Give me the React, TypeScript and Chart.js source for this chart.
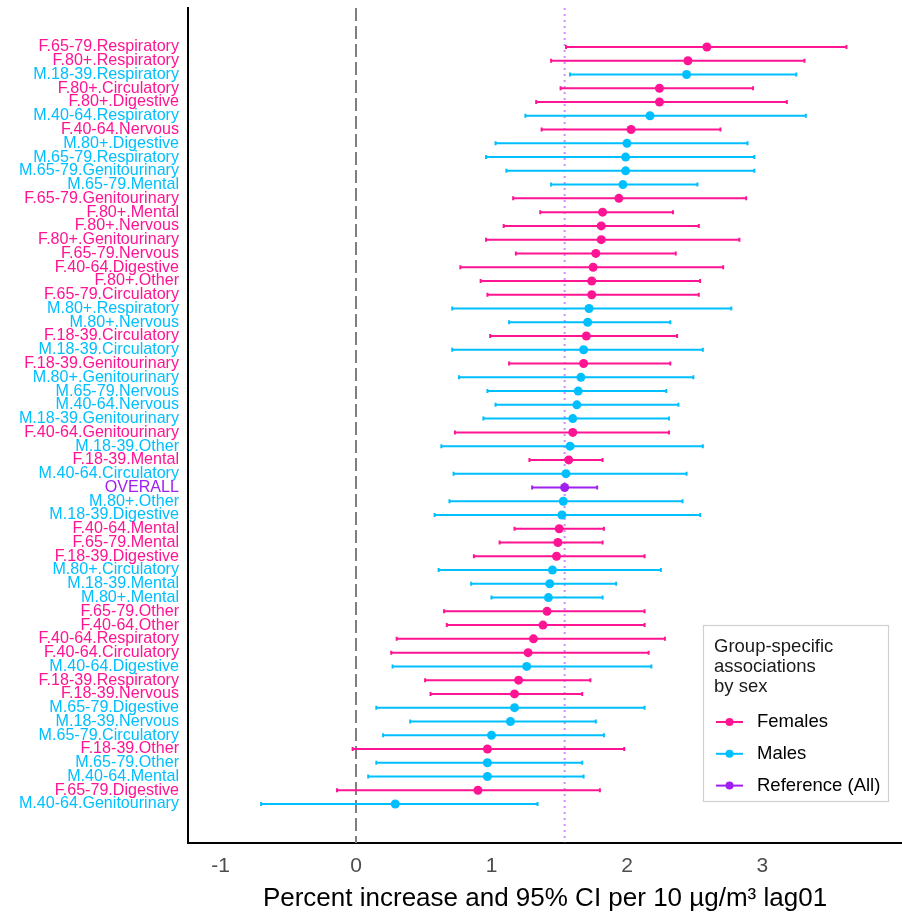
import React, { useEffect, useRef } from 'react';
import { Chart, registerables } from 'chart.js';

Chart.register(...registerables);

// ---------- data ----------
const rowLabels = [
  'F.65-79.Respiratory', 'F.80+.Respiratory', 'M.18-39.Respiratory', 'F.80+.Circulatory',
  'F.80+.Digestive', 'M.40-64.Respiratory', 'F.40-64.Nervous', 'M.80+.Digestive',
  'M.65-79.Respiratory', 'M.65-79.Genitourinary', 'M.65-79.Mental', 'F.65-79.Genitourinary',
  'F.80+.Mental', 'F.80+.Nervous', 'F.80+.Genitourinary', 'F.65-79.Nervous',
  'F.40-64.Digestive', 'F.80+.Other', 'F.65-79.Circulatory', 'M.80+.Respiratory',
  'M.80+.Nervous', 'F.18-39.Circulatory', 'M.18-39.Circulatory', 'F.18-39.Genitourinary',
  'M.80+.Genitourinary', 'M.65-79.Nervous', 'M.40-64.Nervous', 'M.18-39.Genitourinary',
  'F.40-64.Genitourinary', 'M.18-39.Other', 'F.18-39.Mental', 'M.40-64.Circulatory',
  'OVERALL', 'M.80+.Other', 'M.18-39.Digestive', 'F.40-64.Mental',
  'F.65-79.Mental', 'F.18-39.Digestive', 'M.80+.Circulatory', 'M.18-39.Mental',
  'M.80+.Mental', 'F.65-79.Other', 'F.40-64.Other', 'F.40-64.Respiratory',
  'F.40-64.Circulatory', 'M.40-64.Digestive', 'F.18-39.Respiratory', 'F.18-39.Nervous',
  'M.65-79.Digestive', 'M.18-39.Nervous', 'M.65-79.Circulatory', 'F.18-39.Other',
  'M.65-79.Other', 'M.40-64.Mental', 'F.65-79.Digestive', 'M.40-64.Genitourinary',
];

const estimates = [
  2.59, 2.45, 2.44, 2.24, 2.24, 2.17, 2.03, 2.00,
  1.99, 1.99, 1.97, 1.94, 1.82, 1.81, 1.81, 1.77,
  1.75, 1.74, 1.74, 1.72, 1.71, 1.70, 1.68, 1.68,
  1.66, 1.64, 1.63, 1.60, 1.60, 1.58, 1.57, 1.55,
  1.54, 1.53, 1.52, 1.50, 1.49, 1.48, 1.45, 1.43,
  1.42, 1.41, 1.38, 1.31, 1.27, 1.26, 1.20, 1.17,
  1.17, 1.14, 1.00, 0.97, 0.97, 0.97, 0.90, 0.29,
];

const lowerCI = [
  1.55, 1.44, 1.58, 1.51, 1.33, 1.25, 1.37, 1.03,
  0.96, 1.11, 1.44, 1.16, 1.36, 1.09, 0.96, 1.18,
  0.77, 0.92, 0.97, 0.71, 1.13, 0.99, 0.71, 1.13,
  0.76, 0.97, 1.03, 0.94, 0.73, 0.63, 1.28, 0.72,
  1.30, 0.69, 0.58, 1.17, 1.06, 0.87, 0.61, 0.85,
  1.00, 0.65, 0.67, 0.30, 0.26, 0.27, 0.51, 0.55,
  0.15, 0.40, 0.20, -0.025, 0.15, 0.09, -0.14, -0.70,
];

const upperCI = [
  3.62, 3.31, 3.25, 2.93, 3.18, 3.32, 2.69, 2.89,
  2.94, 2.94, 2.52, 2.88, 2.34, 2.53, 2.83, 2.36,
  2.71, 2.54, 2.53, 2.77, 2.32, 2.37, 2.56, 2.32,
  2.49, 2.29, 2.38, 2.31, 2.31, 2.56, 1.82, 2.44,
  1.78, 2.41, 2.54, 1.83, 1.82, 2.13, 2.25, 1.92,
  1.82, 2.13, 2.13, 2.28, 2.16, 2.18, 1.73, 1.67,
  2.13, 1.77, 1.83, 1.98, 1.67, 1.68, 1.80, 1.34,
];

const xTickValues = [-1, 0, 1, 2, 3];
const xAxisTitle = 'Percent increase and 95% CI per 10 \u00b5g/m\u00b3 lag01';
const legendTitle = ['Group-specific', 'associations', 'by sex'];
const legendLabels = ['Females', 'Males', 'Reference (All)'];
const overallLabel = 'OVERALL';

// ---------- styles ----------
const FONT = '"Liberation Sans", Arial, Helvetica, sans-serif';
const groupColors = ['#FF1493', '#00BFFF', '#A020F0'];
const groupOf = (lab: string) => (lab === overallLabel ? 2 : lab.startsWith('F.') ? 0 : 1);

const forestPlugin = {
  id: 'forestBars',
  beforeDatasetsDraw(chart: any) {
    const { ctx, chartArea, scales } = chart;
    const x = scales.x;
    const y = scales.y;
    ctx.save();
    ctx.beginPath();
    ctx.rect(chartArea.left, chartArea.top, chartArea.right - chartArea.left, chartArea.bottom - chartArea.top);
    ctx.clip();

    // zero reference line (dashed grey)
    const x0 = x.getPixelForValue(0);
    ctx.strokeStyle = '#7f7f7f';
    ctx.lineWidth = 2;
    ctx.setLineDash([13, 5]);
    ctx.beginPath();
    ctx.moveTo(x0, chartArea.top);
    ctx.lineTo(x0, chartArea.bottom);
    ctx.stroke();

    // overall reference line (dotted purple)
    const oi = rowLabels.indexOf(overallLabel);
    const xo = x.getPixelForValue(estimates[oi]);
    ctx.strokeStyle = 'rgba(160,32,240,0.5)';
    ctx.lineWidth = 2;
    ctx.setLineDash([2, 4]);
    ctx.beginPath();
    ctx.moveTo(xo, chartArea.top);
    ctx.lineTo(xo, chartArea.bottom);
    ctx.stroke();
    ctx.setLineDash([]);

    // error bars
    rowLabels.forEach((lab, i) => {
      const py = y.getPixelForValue(i);
      const x1 = x.getPixelForValue(lowerCI[i]);
      const x2 = x.getPixelForValue(upperCI[i]);
      ctx.strokeStyle = groupColors[groupOf(lab)];
      ctx.lineWidth = 2;
      ctx.beginPath();
      ctx.moveTo(x1, py);
      ctx.lineTo(x2, py);
      ctx.moveTo(x1, py - 2);
      ctx.lineTo(x1, py + 2);
      ctx.moveTo(x2, py - 2);
      ctx.lineTo(x2, py + 2);
      ctx.stroke();
    });
    ctx.restore();
  },
  afterDraw(chart: any) {
    const { ctx } = chart;
    ctx.save();
    // legend box
    const bx = 703.5, by = 625.5, bw = 185, bh = 176;
    ctx.fillStyle = '#ffffff';
    ctx.fillRect(bx, by, bw, bh);
    ctx.strokeStyle = '#d0d0d0';
    ctx.lineWidth = 1.2;
    ctx.strokeRect(bx, by, bw, bh);

    ctx.fillStyle = '#1a1a1a';
    ctx.font = `18.5px ${FONT}`;
    ctx.textAlign = 'left';
    ctx.textBaseline = 'middle';
    legendTitle.forEach((t, i) => {
      ctx.fillText(t, 714, 647 + i * 20);
    });

    legendLabels.forEach((t, i) => {
      const cy = 722 + i * 31.8;
      const col = groupColors[i];
      ctx.strokeStyle = col;
      ctx.lineWidth = 2;
      ctx.beginPath();
      ctx.moveTo(716, cy);
      ctx.lineTo(743, cy);
      ctx.stroke();
      ctx.fillStyle = col;
      ctx.beginPath();
      ctx.arc(729.5, cy, 4, 0, Math.PI * 2);
      ctx.fill();
      ctx.fillStyle = '#000000';
      ctx.fillText(t, 757, cy);
    });
    ctx.restore();
  },
};

export default function App() {
  const canvasRef = useRef<HTMLCanvasElement | null>(null);

  useEffect(() => {
    const canvas = canvasRef.current;
    if (!canvas) return;

    const datasets = [0, 1, 2].map((g) => ({
      label: legendLabels[g],
      data: rowLabels
        .map((lab, i) => (groupOf(lab) === g ? { x: estimates[i], y: i } : null))
        .filter((d) => d !== null),
      backgroundColor: groupColors[g],
      borderColor: groupColors[g],
      borderWidth: 0,
      pointRadius: 4.5,
      pointHoverRadius: 4.5,
      showLine: false,
    }));

    const chart = new Chart(canvas, {
      type: 'scatter',
      data: { datasets },
      options: {
        responsive: false,
        animation: false,
        devicePixelRatio: 1,
        layout: { autoPadding: false, padding: { top: 8, right: 0, bottom: 0, left: 0 } },
        plugins: {
          legend: { display: false },
          tooltip: { enabled: false },
        },
        scales: {
          x: {
            type: 'linear',
            min: -1.24,
            max: 4.03,
            afterBuildTicks: (s: any) => {
              s.ticks = xTickValues.map((v) => ({ value: v }));
            },
            afterFit: (s: any) => {
              s.height = 72;
              s.paddingLeft = 0;
              s.paddingRight = 0;
            },
            grid: { display: false, drawTicks: false },
            border: { display: true, color: '#000000', width: 2 },
            ticks: {
              padding: 11,
              color: '#4d4d4d',
              font: { family: FONT, size: 21 },
              callback: (v: any) => String(v),
            },
            title: {
              display: true,
              text: xAxisTitle,
              color: '#000000',
              font: { family: FONT, size: 26 },
              padding: { top: 0, bottom: 1 },
            },
          },
          y: {
            type: 'linear',
            reverse: true,
            min: -2.83,
            max: rowLabels.length - 1 + 2.83,
            afterBuildTicks: (s: any) => {
              s.ticks = rowLabels.map((_, i) => ({ value: i }));
            },
            afterFit: (s: any) => {
              s.width = 188;
              s.paddingTop = 0;
              s.paddingBottom = 0;
            },
            grid: { display: false, drawTicks: false },
            border: { display: true, color: '#000000', width: 2 },
            ticks: {
              autoSkip: false,
              padding: 9,
              color: (c: any) => groupColors[groupOf(rowLabels[c.index] || '')],
              font: { family: FONT, size: 16.1 },
              callback: (_v: any, i: number) => rowLabels[i],
            },
          },
        },
      },
      plugins: [forestPlugin],
    });

    return () => chart.destroy();
  }, []);

  return (
    <div style={{ position: 'fixed', left: 0, top: 0, width: 902, height: 915, overflow: 'hidden', background: '#ffffff' }}>
      <canvas ref={canvasRef} width={902} height={915} style={{ display: 'block', width: 902, height: 915 }} />
    </div>
  );
}
